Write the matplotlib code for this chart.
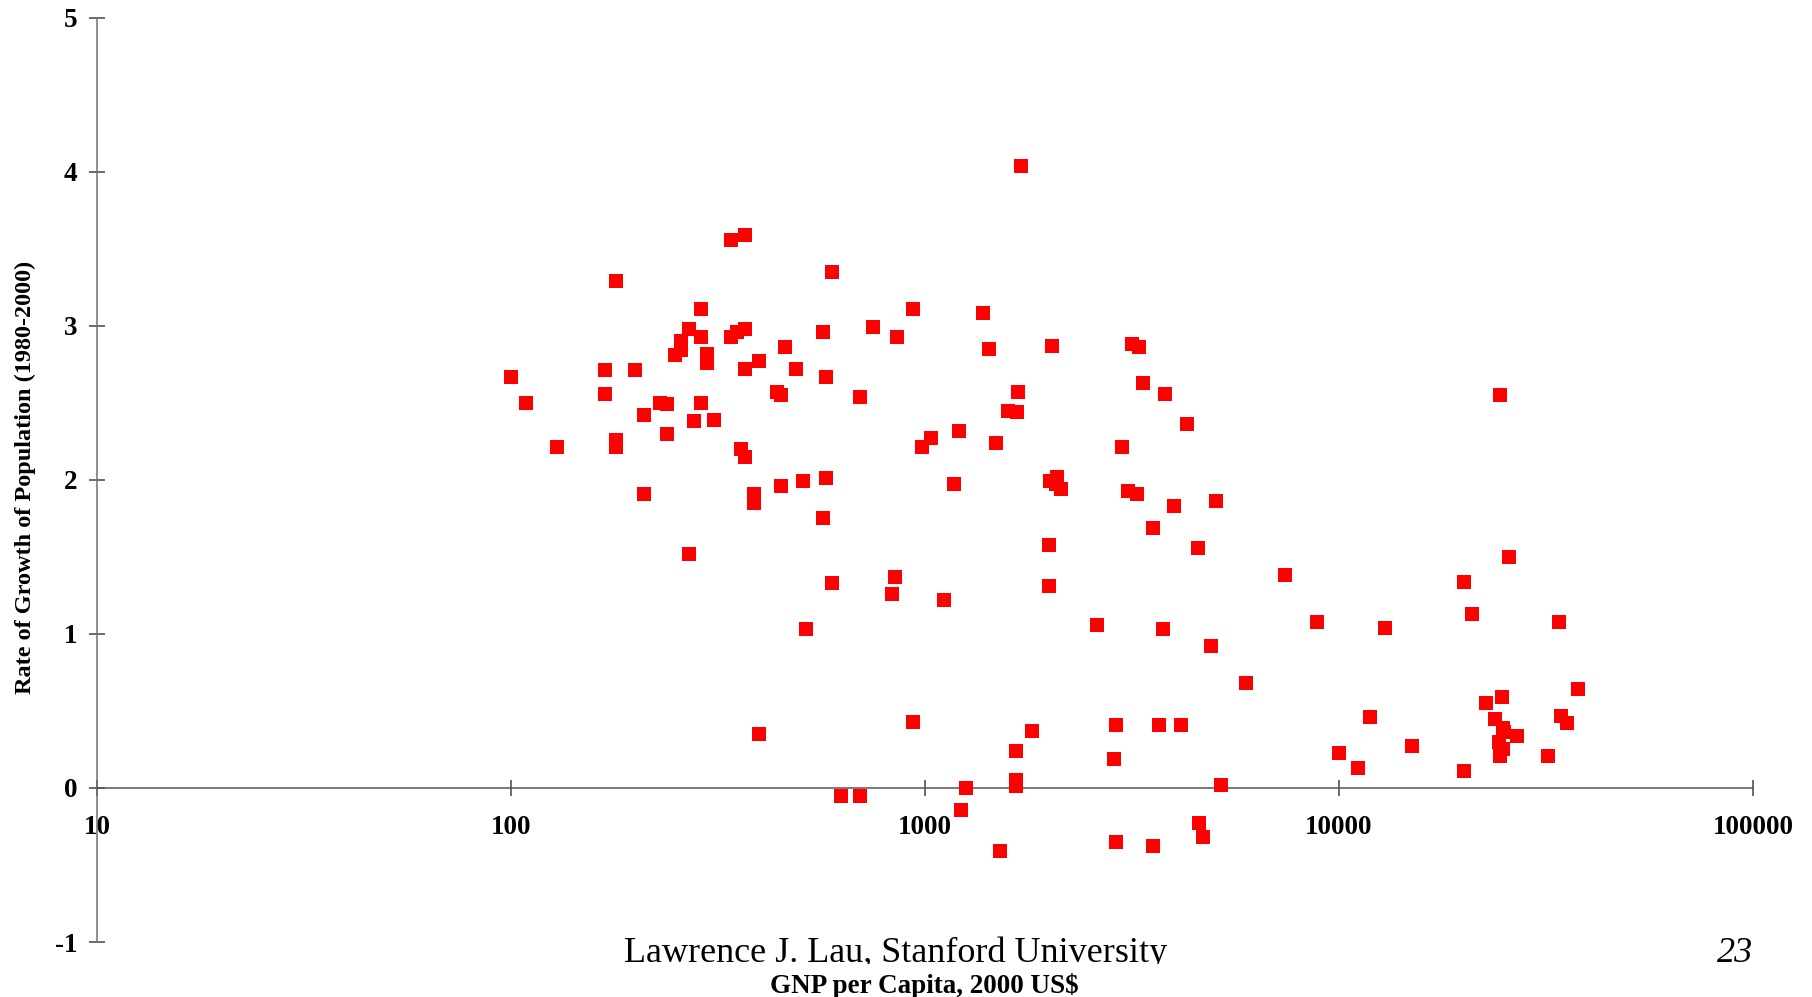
import matplotlib
matplotlib.use("Agg")
import matplotlib.pyplot as plt
import matplotlib.ticker as mtick

# GNP per capita (2000 US$) and population growth rate (% p.a., 1980-2000)
gnp = [100, 109, 129, 169, 169, 179, 179, 179, 199, 209,
       209, 229, 238, 238, 249, 258, 258, 269, 269, 277,
       288, 288, 288, 298, 298, 310, 339, 339, 352, 359,
       368, 368, 368, 368, 387, 387, 398, 398, 438, 449,
       449, 458, 489, 508, 517, 566, 566, 577, 577, 596,
       596, 628, 695, 695, 747, 832, 844, 854, 935, 935,
       984, 1036, 1112, 1178, 1209, 1225, 1257, 1383, 1428, 1485,
       1514, 1585, 1667, 1678, 1710, 1656, 1656, 1656, 1812, 1995,
       1995, 2009, 2023, 2070, 2089, 2128, 2600, 2860, 2898, 2898,
       2994, 3090, 3170, 3252, 3296, 3358, 3560, 3560, 3675, 3750,
       3795, 3998, 4152, 4285, 4572, 4603, 4690, 4910, 5036, 5200,
       5955, 7410, 8870, 10020, 11100, 11910, 12950, 15030, 20050, 20050,
       20990, 22650, 23870, 24480, 24780, 24300, 24900, 24480, 24900, 25770,
       26970, 32060, 33970, 34420, 35540, 37850, 25000]
growth = [2.67, 2.50, 2.21, 2.71, 2.56, 3.29, 2.26, 2.21, 2.71, 2.42,
          1.91, 2.50, 2.49, 2.30, 2.81, 2.84, 2.90, 2.98, 1.52, 2.38,
          3.11, 2.93, 2.50, 2.82, 2.76, 2.39, 3.56, 2.93, 2.96, 2.20,
          3.59, 2.98, 2.72, 2.15, 1.91, 1.85, 2.77, 0.35, 2.57, 2.55,
          1.96, 2.86, 2.72, 1.99, 1.03, 2.96, 1.75, 2.67, 2.01, 3.35,
          1.33, -0.05, 2.54, -0.05, 2.99, 1.26, 1.37, 2.93, 3.11, 0.43,
          2.21, 2.27, 1.22, 1.97, 2.32, -0.14, 0.00, 3.08, 2.85, 2.24,
          -0.41, 2.45, 2.44, 2.57, 4.04, 0.24, 0.05, 0.01, 0.37, 1.58,
          1.31, 1.99, 2.87, 1.97, 2.02, 1.94, 1.06, 0.19, 0.41, -0.35,
          2.21, 1.93, 2.88, 1.91, 2.86, 2.63, 1.69, -0.38, 0.41, 1.03,
          2.56, 1.83, 0.41, 2.36, 1.56, -0.23, -0.32, 0.92, 1.86, 0.02,
          0.68, 1.38, 1.08, 0.23, 0.13, 0.46, 1.04, 0.27, 1.34, 0.11,
          1.13, 0.55, 0.45, 2.55, 0.59, 0.30, 0.39, 0.21, 0.25, 1.50,
          0.34, 0.21, 1.08, 0.47, 0.42, 0.64, 0.36]

x_ticks = [10, 100, 1000, 10000, 100000]
x_labels = ["10", "100", "1000", "10000", "100000"]
y_ticks = [-1, 0, 1, 2, 3, 4, 5]

plt.rcParams['font.family'] = ['Liberation Serif', 'DejaVu Serif']
plt.rcParams['axes.unicode_minus'] = False

W, H = 1812, 997
fig = plt.figure(figsize=(W / 100, H / 100), dpi=100)
ax = fig.add_axes([97 / W, 1 - 942 / H, (1753 - 97) / W, (942 - 17.7) / H])

ax.scatter(gnp, growth, marker='s', s=112, color='#ff0000', linewidths=0, zorder=3)

ax.set_xscale('log')
ax.set_xlim(10, 100000)
ax.set_ylim(-1, 5)

# axes look like an old Excel chart: y axis at x=10, x axis crossing at y=0
ax.spines['top'].set_visible(False)
ax.spines['right'].set_visible(False)
ax.spines['bottom'].set_position(('data', 0))
ax.spines['left'].set_color('#707070')
ax.spines['bottom'].set_color('#555555')
ax.spines['left'].set_linewidth(1.1)
ax.spines['bottom'].set_linewidth(1.1)

ax.set_xticks(x_ticks)
ax.set_xticklabels(x_labels)
ax.xaxis.set_minor_locator(mtick.NullLocator())
ax.set_yticks(y_ticks)
ax.set_yticklabels([str(v) for v in y_ticks])

ax.tick_params(axis='x', direction='inout', length=11, width=1.1, color='#444444',
               pad=14, labelsize=19.5)
ax.tick_params(axis='y', direction='inout', length=12, width=1.1, color='#444444',
               pad=8, labelsize=19.5)
for lab in ax.get_xticklabels() + ax.get_yticklabels():
    lab.set_fontweight('bold')

fig.text(25 / W, 1 - 477 / H, "Rate of Growth of Population (1980-2000)",
         rotation=90, ha='center', va='center', fontsize=17.5, fontweight='bold')

# slide footer, its lower edge hidden under the x label band
clip = plt.Rectangle((0, 1 - 964 / H), 1, 964 / H, transform=fig.transFigure)
foot = fig.text(896 / W, 1 - 962 / H, "Lawrence J. Lau, Stanford University",
                ha='center', va='baseline', fontsize=26)
page = fig.text(1753 / W, 1 - 962 / H, "23", ha='right', va='baseline', fontsize=26,
                style='italic')
foot.set_clip_path(clip)
page.set_clip_path(clip)
fig.text(924 / W, 1 - 986 / H, "GNP per Capita, 2000 US$", ha='center', va='center',
         fontsize=19.5, fontweight='bold')

plt.savefig('out.png', dpi=100)
